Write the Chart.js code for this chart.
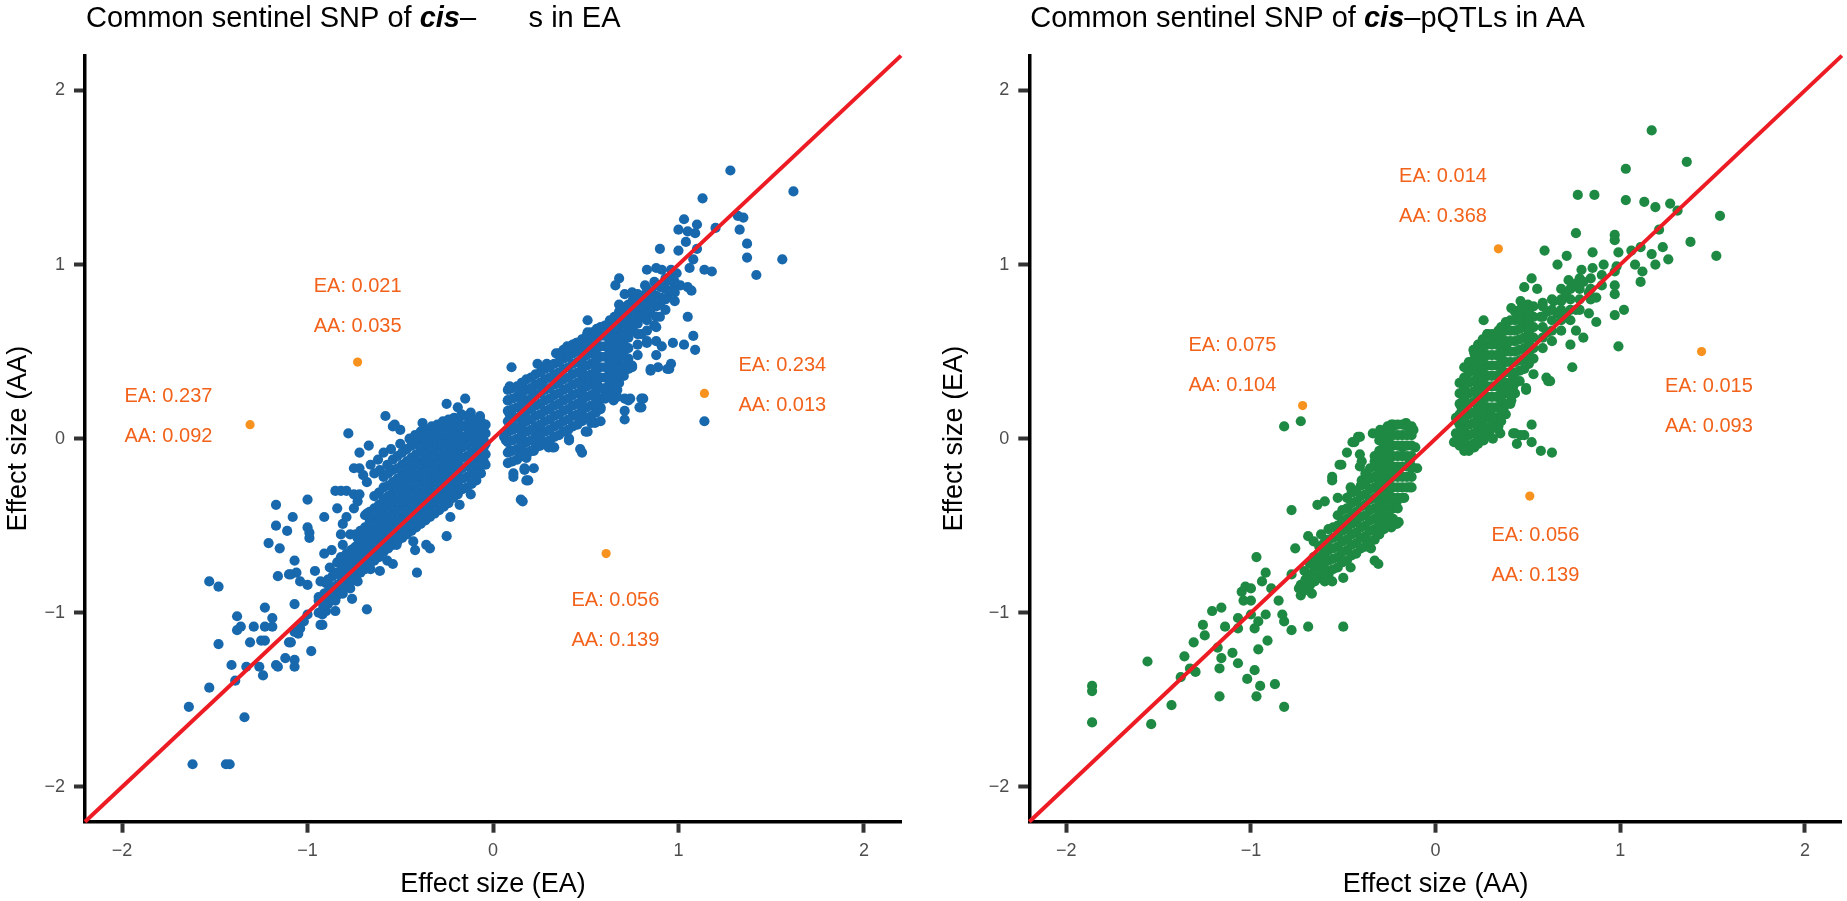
<!DOCTYPE html>
<html>
<head>
<meta charset="utf-8">
<script src="https://cdn.jsdelivr.net/npm/chart.js@4.4.1/dist/chart.umd.min.js"></script>
<style>
  html, body { margin:0; padding:0; background:#ffffff; width:1847px; height:901px; overflow:hidden; }
  .panel { position:absolute; top:0; height:901px; }
  #p1 { left:0; width:923px; }
  #p2 { left:923px; width:924px; }
</style>
</head>
<body>
<div class="panel" id="p1"><canvas id="c1" width="923" height="901"></canvas></div>
<div class="panel" id="p2"><canvas id="c2" width="924" height="901"></canvas></div>
<script>
// ---------------- DATA ----------------
const tickValues = [-2, -1, 0, 1, 2];
const axisMin = -2.2, axisMax = 2.2;
const diagX = [-2.2, 2.2];   // identity line y = x across the plot

// Left panel: x = effect size (EA), y = effect size (AA) — individual points
const leftPoints = [
[-1.38,-1.02],[-1.23,-0.97],[-1.19,-1.03],[-1.36,-1.08],[-1.38,-1.10],[-1.29,-1.08],[-1.23,-1.08],[-1.19,-1.08],[-1.48,-1.18],[-1.31,-1.17],[-1.25,-1.16],[-1.23,-1.16],[-1.10,-1.17],[-1.41,-1.30],[-1.33,-1.31],[-1.26,-1.31],[-1.17,-1.30],[-1.16,-1.31],[-1.12,-1.26],[-1.07,-1.27],[-1.07,-1.31],[-1.24,-1.36],[-1.39,-1.39],[-1.53,-1.43],[-1.64,-1.54],[-1.34,-1.60],[-1.62,-1.87],[-1.44,-1.87],[-1.42,-1.87],[-0.98,-1.22],[-0.85,-0.99],[-0.68,-0.98],[-0.93,-1.07],[-0.92,-1.01],
[-1.53,-0.82],[-1.48,-0.85],[-1.10,-0.78],[-1.16,-0.79],[-1.06,-0.77],[-1.04,-0.82],[-1.00,-0.84],[-0.96,-0.76],[-0.93,-0.82],[-0.90,-0.83],[-0.91,-0.89],[-0.94,-0.91],[-0.92,-0.99],[-1.00,-1.01],[-1.02,-1.05],[-1.05,-1.12],[-1.07,-0.95],[-1.04,-1.09],[-1.07,-1.11],[-0.86,-0.86],[-0.90,-0.99],[-0.85,-0.93],[-0.76,-0.92],[-0.73,-0.82],[-0.81,-0.89],[-0.77,-0.86],[-0.79,-0.78],[-0.84,-0.77],[-0.88,-0.74],[-0.91,-0.66],[-0.87,-0.64],[-0.82,-0.68],[-0.81,-0.61],[-0.75,-0.63],[-0.73,-0.57],[-0.77,-0.55],[-0.82,-0.55],[-0.81,-0.49],[-0.79,-0.45],[-0.75,-0.40],[-0.73,-0.36],[-0.84,-0.40],[-0.85,-0.30],[-0.82,-0.30],[-0.79,-0.30],[-0.75,-0.32],[-0.72,-0.32],[-0.68,-0.25],[-0.64,-0.20],[-0.61,-0.18],[-0.57,-0.15],[-0.59,-0.08],[-0.67,-0.04],[-0.72,-0.08],[-0.75,-0.17],[-0.72,-0.17],[-0.70,-0.21],[-0.78,0.03],[-0.58,0.13],[-0.54,0.07],[-0.50,0.05],[-0.38,0.09],[-0.35,0.03],[-0.25,0.20],[-0.19,0.18],[-0.15,0.23],[-0.12,0.15],[-0.07,0.13],[-0.38,-0.41],[-0.43,-0.59],[-0.42,-0.64],[-0.41,-0.77],[-0.36,-0.61],[-0.34,-0.63],[-0.25,-0.56],[-0.23,-0.45],[-0.18,-0.38],[-0.12,-0.32],[-0.07,-0.19],[-0.05,-0.13],[-0.06,0.03],[-0.05,-0.05],[-0.91,-0.45],[-1.00,-0.35],[-1.00,-0.51],[-0.99,-0.57],[-0.99,-0.54],[-1.08,-0.45],[-1.11,-0.53],[-1.17,-0.50],[-1.17,-0.38],[-1.21,-0.60],[-1.15,-0.63],[-1.07,-0.70],[-0.61,-0.66],[-0.57,-0.70],[-0.54,-0.72],[-0.61,-0.76],[-0.66,-0.75],[-0.52,-0.61],[-0.64,-0.57],[-0.68,-0.51],[-0.68,-0.43],[-0.89,-0.83],[-1.09,-0.78],[-1.09,-1.17],[-0.92,-1.07],
[-0.09,0.08],[-0.14,0.07],[-0.21,0.07],[-0.27,0.03],[-0.05,-0.01],[-0.14,-0.03],[-0.23,-0.05],[-0.53,0.08],
[-0.45,0.00],[-0.42,0.02],[-0.39,0.04],[-0.36,0.05],[-0.33,0.07],[-0.30,0.08],[-0.27,0.10],[-0.50,-0.03],[-0.55,-0.06],[-0.62,-0.12],[-0.66,-0.15],[-0.21,0.12],[-0.17,0.14],
[1.28,1.54],[1.13,1.38],[1.62,1.42],[1.03,1.26],[1.10,1.23],[1.00,1.20],[1.05,1.19],[1.09,1.18],[1.20,1.21],[1.33,1.20],[1.35,1.27],[1.32,1.28],[1.37,1.12],[1.37,1.04],[1.42,0.94],[1.56,1.03],[0.90,1.09],[1.00,1.08],[1.04,1.13],[1.10,1.09],[1.08,1.03],[1.06,0.98],[1.14,0.97],[1.18,0.96],[0.83,0.97],[0.88,0.98],[0.91,0.97],[0.96,0.97],[0.99,0.95],[0.68,0.92],[0.66,0.88],[0.82,0.88],[0.87,0.90],[0.94,0.91],[0.98,0.89],[1.01,0.88],[1.05,0.87],[1.07,0.85],[0.71,0.83],[0.75,0.84],[0.78,0.81],[0.68,0.77],[0.72,0.76],[0.81,0.74],[0.90,0.77],[0.94,0.81],[0.98,0.79],[0.85,0.72],[0.90,0.70],[0.87,0.65],[1.05,0.70],[0.51,0.68],[0.51,0.61],[0.56,0.63],[0.62,0.64],[0.72,0.66],[0.78,0.68],[0.80,0.60],[0.83,0.55],[0.88,0.56],[0.91,0.53],[0.97,0.55],[1.03,0.54],[1.08,0.59],[1.09,0.51],[0.88,0.48],[0.85,0.39],[0.89,0.41],[0.96,0.43],[0.95,0.40],[0.75,0.42],[0.71,0.39],[0.85,0.40],[0.94,0.40],[0.75,0.41],[0.71,0.23],[0.74,0.23],[0.80,0.23],[0.80,0.18],[0.67,0.28],[0.65,0.22],[0.62,0.26],[0.56,0.32],[0.51,0.33],[0.55,0.09],[0.51,0.04],[0.41,0.00],[0.47,-0.06],[0.32,-0.05],[0.25,-0.04],[0.10,0.41],[0.24,0.43],[0.29,0.43],[1.14,0.10],[0.81,0.23],[0.79,0.18],[0.71,0.16],[0.73,0.22],[0.67,0.24],[0.58,0.10],[0.53,0.09],[0.50,0.04],[0.47,0.12],[0.41,-0.01],[0.48,-0.08],[0.33,-0.05],[0.30,-0.05],[0.25,-0.03],[0.19,-0.08],[0.17,-0.17],[0.22,-0.17],[0.19,-0.24],[0.16,-0.36],[0.09,0.30],[0.08,0.22],[0.09,0.14],[0.11,0.07],[0.07,-0.01],[0.09,-0.07],[0.15,-0.09],[0.18,-0.11],[0.22,-0.07],[0.11,-0.20],[0.17,-0.18],[0.11,-0.22],[0.18,-0.24],[0.15,-0.35],[0.16,0.32],[0.34,0.49],[0.40,0.53],[0.45,0.55],[0.48,0.53],[0.58,0.18],[0.71,0.11],[0.15,0.26],[0.18,0.12],[0.06,0.01],[0.15,-0.01],[0.25,0.03],[0.22,0.26],[0.26,0.31],[0.61,0.26]
];
// Left panel dense cores, read as columns: [EA value, AA values]
const leftCore = [
[-0.04,[-0.15,-0.09,-0.03,0.03,0.08]],
[-0.09,[-0.24,-0.18,-0.12,-0.06,0.00,0.06,0.11]],
[-0.14,[-0.28,-0.22,-0.16,-0.10,-0.04,0.02,0.08,0.13]],
[-0.19,[-0.32,-0.26,-0.20,-0.14,-0.08,-0.02,0.04,0.10]],
[-0.24,[-0.37,-0.31,-0.25,-0.19,-0.13,-0.07,-0.01,0.05,0.11]],
[-0.29,[-0.41,-0.35,-0.29,-0.23,-0.17,-0.11,-0.05,0.01,0.06]],
[-0.34,[-0.45,-0.39,-0.33,-0.27,-0.21,-0.15,-0.09,-0.03,0.02]],
[-0.39,[-0.49,-0.43,-0.37,-0.31,-0.25,-0.19,-0.13,-0.07,-0.01]],
[-0.44,[-0.53,-0.47,-0.41,-0.35,-0.29,-0.23,-0.17,-0.11,-0.04]],
[-0.49,[-0.57,-0.51,-0.45,-0.39,-0.33,-0.27,-0.21,-0.15,-0.08]],
[-0.54,[-0.61,-0.55,-0.49,-0.43,-0.37,-0.31,-0.25,-0.18,-0.12]],
[-0.59,[-0.65,-0.59,-0.53,-0.47,-0.41,-0.35,-0.28,-0.22]],
[-0.64,[-0.70,-0.64,-0.58,-0.52,-0.46,-0.40,-0.33]],
[-0.69,[-0.75,-0.69,-0.63,-0.57,-0.51,-0.44]],
[-0.74,[-0.80,-0.74,-0.68,-0.62,-0.55]],
[-0.79,[-0.85,-0.79,-0.72,-0.66]],
[-0.84,[-0.90,-0.84,-0.77,-0.71]],
[-0.89,[-0.95,-0.88,-0.81]],
[-0.94,[-1.00,-0.93]],
[0.08,[-0.14,-0.08,-0.02,0.04,0.10,0.16,0.22,0.28]],
[0.13,[-0.12,-0.06,0.00,0.06,0.12,0.18,0.24,0.30]],
[0.18,[-0.08,-0.02,0.04,0.10,0.16,0.22,0.28,0.34]],
[0.23,[-0.05,0.01,0.07,0.13,0.19,0.25,0.31,0.37]],
[0.28,[-0.02,0.04,0.10,0.16,0.22,0.28,0.34,0.40]],
[0.33,[0.01,0.07,0.13,0.19,0.25,0.31,0.37,0.43]],
[0.38,[0.04,0.10,0.16,0.22,0.28,0.34,0.40,0.46,0.51]],
[0.43,[0.07,0.13,0.19,0.25,0.31,0.37,0.43,0.49,0.54]],
[0.48,[0.10,0.16,0.22,0.28,0.34,0.40,0.46,0.52,0.57]],
[0.53,[0.13,0.19,0.25,0.31,0.37,0.43,0.49,0.55,0.61]],
[0.58,[0.17,0.23,0.29,0.35,0.41,0.47,0.53,0.59,0.64]],
[0.63,[0.26,0.32,0.38,0.44,0.50,0.56,0.62,0.68]],
[0.68,[0.32,0.38,0.44,0.50,0.56,0.62,0.68,0.73]],
[0.73,[0.40,0.46,0.52,0.58,0.64,0.70,0.77]],
[0.78,[0.48,0.54,0.60,0.66,0.72,0.78,0.83]],
[0.83,[0.56,0.62,0.68,0.74,0.80,0.86]],
[0.88,[0.64,0.70,0.76,0.82,0.88]],
[0.93,[0.74,0.80,0.86,0.92]],
[0.98,[0.84,0.90,0.95]]
];
// Left panel in-between columns of the dense cores
const leftCoreB = [
[-0.065,[-0.20,-0.14,-0.08,-0.02,0.04,0.10]],
[-0.115,[-0.26,-0.20,-0.14,-0.08,-0.02,0.04,0.10]],
[-0.165,[-0.29,-0.23,-0.17,-0.11,-0.05,0.01,0.07,0.13]],
[-0.215,[-0.34,-0.28,-0.22,-0.16,-0.10,-0.04,0.02,0.08]],
[-0.265,[-0.39,-0.33,-0.27,-0.21,-0.15,-0.09,-0.03,0.03,0.09]],
[-0.315,[-0.43,-0.37,-0.31,-0.25,-0.19,-0.13,-0.07,-0.01,0.04]],
[-0.365,[-0.47,-0.41,-0.35,-0.29,-0.23,-0.17,-0.11,-0.05,0.00]],
[-0.415,[-0.51,-0.45,-0.39,-0.33,-0.27,-0.21,-0.15,-0.09,-0.03]],
[-0.465,[-0.55,-0.49,-0.43,-0.37,-0.31,-0.25,-0.19,-0.13,-0.06]],
[-0.515,[-0.59,-0.53,-0.47,-0.41,-0.35,-0.29,-0.23,-0.17,-0.10]],
[-0.565,[-0.63,-0.57,-0.51,-0.45,-0.39,-0.33,-0.27,-0.20]],
[-0.615,[-0.68,-0.62,-0.56,-0.50,-0.44,-0.38,-0.31]],
[-0.665,[-0.72,-0.66,-0.60,-0.54,-0.48,-0.42]],
[-0.715,[-0.77,-0.71,-0.65,-0.59,-0.53]],
[-0.765,[-0.82,-0.76,-0.70,-0.64]],
[-0.815,[-0.87,-0.81,-0.75,-0.69]],
[-0.865,[-0.92,-0.86,-0.79]],
[-0.915,[-0.97,-0.91]],
[0.105,[-0.13,-0.07,-0.01,0.05,0.11,0.17,0.23,0.29]],
[0.155,[-0.10,-0.04,0.02,0.08,0.14,0.20,0.26,0.32]],
[0.205,[-0.07,-0.01,0.05,0.11,0.17,0.23,0.29,0.35]],
[0.255,[-0.04,0.02,0.08,0.14,0.20,0.26,0.32,0.38]],
[0.305,[-0.01,0.05,0.11,0.17,0.23,0.29,0.35,0.41]],
[0.355,[0.02,0.08,0.14,0.20,0.26,0.32,0.38,0.44,0.49]],
[0.405,[0.05,0.11,0.17,0.23,0.29,0.35,0.41,0.47,0.52]],
[0.455,[0.08,0.14,0.20,0.26,0.32,0.38,0.44,0.50,0.55]],
[0.505,[0.12,0.18,0.24,0.30,0.36,0.42,0.48,0.54,0.59]],
[0.555,[0.15,0.21,0.27,0.33,0.39,0.45,0.51,0.57,0.62]],
[0.605,[0.23,0.29,0.35,0.41,0.47,0.53,0.59,0.65]],
[0.655,[0.29,0.35,0.41,0.47,0.53,0.59,0.65,0.70]],
[0.705,[0.36,0.42,0.48,0.54,0.60,0.66,0.72]],
[0.755,[0.62,0.68,0.74,0.80]],
[0.805,[0.70,0.76,0.82]],
[0.855,[0.78,0.84]],
[0.905,[0.81,0.87]],
[0.955,[0.85,0.91]]
];
// Left panel highlighted SNPs and their labels
const leftHiX = [-0.73, -1.31, 1.14, 0.61];
const leftHiY = [0.44, 0.08, 0.26, -0.66];
const leftLabelTop = ['EA: 0.021', 'EA: 0.237', 'EA: 0.234', 'EA: 0.056'];
const leftLabelBottom = ['AA: 0.035', 'AA: 0.092', 'AA: 0.013', 'AA: 0.139'];
const leftLabelX = [-0.73, -1.75, 1.56, 0.66];
const leftLabelTopY = [0.875, 0.24, 0.42, -0.93];
const leftLabelBottomY = [0.645, 0.01, 0.19, -1.16];

// Right panel: x = effect size (AA), y = effect size (EA)
const rightPoints = [
[-0.82,0.07],[-0.73,0.10],[-1.86,-1.63],[-1.86,-1.45],[-1.86,-1.42],[-1.56,-1.28],[-1.54,-1.64],[-1.43,-1.53],[-1.38,-1.37],[-1.36,-1.25],[-1.31,-1.17],[-1.33,-1.32],[-1.30,-1.34],[-1.26,-1.07],[-1.25,-1.13],[-1.21,-0.99],[-1.16,-0.97],[-1.14,-1.08],[-1.18,-1.20],[-1.16,-1.26],[-1.17,-1.32],[-1.17,-1.48],[-1.10,-1.23],[-1.07,-1.29],[-1.07,-1.03],[-1.07,-1.09],[-1.02,-1.38],[-0.98,-1.33],[-0.95,-1.42],[-0.97,-1.48],[-0.87,-1.41],[-0.82,-1.54],[-0.96,-1.21],[-0.91,-1.16],[-0.97,-0.68],[-1.05,-0.88],[-1.03,-0.85],[-1.00,-0.86],[-1.04,-0.93],[-1.00,-0.93],[-1.00,-1.01],[-0.96,-1.05],[-0.98,-1.09],[-0.92,-1.01],[-0.92,-0.77],[-0.94,-0.82],[-0.89,-0.86],[-0.85,-0.93],[-0.83,-1.01],[-0.82,-1.05],[-0.78,-1.10],[-0.69,-1.08],[-0.50,-1.08],[-0.78,-0.78],[-0.74,-0.86],[-0.71,-0.84],[-0.67,-0.89],[-0.71,-0.76],[-0.76,-0.63],[-0.78,-0.41],[-0.69,-0.56],[-0.66,-0.59],[-0.62,-0.55],[-0.66,-0.68],[-0.60,-0.68],[-0.58,-0.78],[-0.60,-0.82],[-0.56,-0.82],[-0.50,-0.80],[-0.46,-0.74],[-0.51,-0.70],[-0.57,-0.63],[-0.56,-0.24],[-0.51,-0.15],[-0.48,-0.08],[-0.45,-0.02],[-0.41,0.01],[-0.41,-0.16],[-0.40,-0.13],[-0.33,-0.13],[-0.34,0.03],[-0.30,0.05],[-0.26,0.07],[-0.24,0.08],[-0.16,0.09],[-0.12,0.05],[-0.11,-0.05],[-0.10,-0.17],[-0.13,-0.28],[-0.17,-0.34],[-0.21,-0.49],[-0.24,-0.51],[-0.35,-0.63],[-0.33,-0.70],[-0.37,-0.59],[-0.64,-0.38],[-0.60,-0.36],[-0.53,-0.34],[-0.46,-0.28],[-0.40,-0.24],[-0.37,-0.22],
[-0.31,0.03],[-0.42,0.01],[-0.44,-0.02],[-0.41,-0.09],[-0.52,-0.15],[-0.56,-0.22],[-0.27,-0.07],[-0.18,-0.05],[-0.14,-0.13],[-0.22,-0.20],[-0.31,-0.22],[-0.23,0.08],[-0.28,0.04],[-0.13,-0.17],[-0.14,-0.28],[-0.21,-0.36],[-0.20,-0.48],[-0.31,-0.55],[-0.31,-0.72],[-0.26,-0.41],
[1.17,1.77],[1.03,1.55],[1.36,1.59],[0.77,1.40],[0.86,1.40],[1.03,1.37],[1.13,1.36],[1.19,1.33],[1.27,1.35],[1.31,1.31],[1.54,1.28],[0.76,1.18],[0.97,1.17],[0.97,1.14],[1.21,1.20],[1.38,1.13],[1.52,1.05],[0.59,1.08],[0.71,1.05],[0.66,1.00],[0.85,1.07],[0.91,1.00],[0.85,0.98],[0.79,0.97],[0.99,1.07],[1.06,1.08],[1.11,1.10],[1.17,1.06],[1.23,1.10],[1.26,1.03],[1.19,1.00],[1.08,1.00],[1.12,0.96],[1.11,0.90],[0.97,0.96],[0.98,0.99],[0.97,0.88],[0.97,0.83],[1.02,0.74],[0.97,0.71],[0.99,0.53],[0.52,0.92],[0.48,0.87],[0.55,0.86],[0.46,0.79],[0.50,0.77],[0.41,0.75],[0.58,0.78],[0.64,0.79],[0.68,0.79],[0.72,0.91],[0.76,0.89],[0.80,0.90],[0.83,0.84],[0.87,0.81],[0.26,0.68],[0.28,0.60],[0.34,0.62],[0.38,0.66],[0.46,0.68],[0.57,0.70],[0.66,0.72],[0.76,0.74],[0.83,0.72],[0.87,0.67],[0.76,0.62],[0.80,0.58],[0.73,0.54],[0.74,0.41],[0.61,0.33],[0.60,0.35],[0.49,0.28],[0.53,0.37],[0.21,0.49],[0.18,0.41],[0.16,0.35],[0.14,0.26],[0.14,0.18],[0.12,0.10],[0.11,0.03],[0.13,-0.03],[0.18,-0.07],[0.23,-0.03],[0.29,0.03],[0.31,0.10],[0.35,0.18],[0.38,0.28],[0.42,0.35],[0.46,0.45],[0.38,0.53],[0.31,0.56],[0.35,0.03],[0.43,0.03],[0.46,0.02],[0.44,-0.03],[0.52,0.08],[0.52,-0.02],[0.57,-0.07],[0.63,-0.08],
[0.11,0.12],[0.10,-0.02],[0.17,-0.05],[0.21,-0.05],[0.26,-0.01],[0.31,0.00],[0.34,0.07],[0.42,0.03],[0.48,0.02],[0.62,0.33],[0.49,0.29],[0.42,0.30],[0.15,0.24],[0.23,0.14],[0.30,0.14],[0.37,0.18],[0.41,0.22]
];
const rightCore = [
[-0.13,[-0.22,-0.16,-0.10,-0.04,0.02,0.07]],
[-0.18,[-0.34,-0.28,-0.22,-0.16,-0.10,-0.04,0.02,0.08]],
[-0.23,[-0.46,-0.40,-0.34,-0.28,-0.22,-0.16,-0.10,-0.04,0.02,0.07]],
[-0.28,[-0.52,-0.46,-0.40,-0.34,-0.28,-0.22,-0.16,-0.10,-0.04,0.02]],
[-0.33,[-0.58,-0.52,-0.46,-0.40,-0.34,-0.28,-0.22,-0.16,-0.10]],
[-0.38,[-0.62,-0.56,-0.50,-0.44,-0.38,-0.32,-0.26,-0.20]],
[-0.43,[-0.66,-0.60,-0.54,-0.48,-0.42,-0.36,-0.30]],
[-0.48,[-0.70,-0.64,-0.58,-0.52,-0.46,-0.40,-0.34]],
[-0.53,[-0.74,-0.68,-0.62,-0.56,-0.50,-0.44]],
[-0.58,[-0.76,-0.70,-0.64,-0.58,-0.52]],
[-0.63,[-0.80,-0.74,-0.68,-0.62]],
[-0.68,[-0.84,-0.78,-0.72]],
[-0.73,[-0.90,-0.84]],
[0.13,[-0.04,0.02,0.08,0.14,0.20,0.26,0.32]],
[0.18,[-0.04,0.02,0.08,0.14,0.20,0.26,0.32,0.38,0.44]],
[0.23,[0.00,0.06,0.12,0.18,0.24,0.30,0.36,0.42,0.48,0.54]],
[0.28,[0.06,0.12,0.18,0.24,0.30,0.36,0.42,0.48,0.54,0.60]],
[0.33,[0.06,0.12,0.18,0.24,0.30,0.36,0.42,0.48,0.54,0.60]],
[0.38,[0.14,0.20,0.26,0.32,0.38,0.44,0.50,0.56,0.62,0.67]],
[0.43,[0.26,0.32,0.38,0.44,0.50,0.56,0.62,0.68,0.73]],
[0.48,[0.40,0.46,0.52,0.58,0.64,0.70,0.76]],
[0.53,[0.46,0.52,0.58,0.64,0.70,0.76]],
[0.58,[0.52,0.58,0.64,0.70,0.76]],
[0.63,[0.56,0.62,0.68,0.74,0.80]],
[0.68,[0.62,0.68,0.74,0.80,0.86]],
[0.73,[0.68,0.74,0.80,0.86]],
[0.78,[0.74,0.80,0.86,0.92]],
[0.84,[0.80,0.86,0.92]],
[0.90,[0.88,0.94]]
];
const rightCoreB = [
[-0.155,[-0.28,-0.22,-0.16,-0.10,-0.04,0.02,0.07]],
[-0.205,[-0.40,-0.34,-0.28,-0.22,-0.16,-0.10,-0.04,0.02,0.08]],
[-0.255,[-0.49,-0.43,-0.37,-0.31,-0.25,-0.19,-0.13,-0.07,-0.01,0.05]],
[-0.305,[-0.55,-0.49,-0.43,-0.37,-0.31,-0.25,-0.19,-0.13,-0.07,-0.01]],
[-0.355,[-0.59,-0.53,-0.47,-0.41,-0.35,-0.29,-0.23,-0.17]],
[-0.405,[-0.63,-0.57,-0.51,-0.45,-0.39,-0.33,-0.27]],
[-0.455,[-0.67,-0.61,-0.55,-0.49,-0.43,-0.37,-0.31]],
[-0.505,[-0.71,-0.65,-0.59,-0.53,-0.47,-0.41]],
[-0.555,[-0.75,-0.69,-0.63,-0.57,-0.51]],
[-0.605,[-0.78,-0.72,-0.66,-0.60]],
[-0.655,[-0.82,-0.76,-0.70]],
[-0.705,[-0.87,-0.81]],
[0.155,[-0.07,-0.01,0.05,0.11,0.17,0.23,0.29,0.35,0.41]],
[0.205,[-0.03,0.03,0.09,0.15,0.21,0.27,0.33,0.39,0.45,0.51]],
[0.255,[0.03,0.09,0.15,0.21,0.27,0.33,0.39,0.45,0.51,0.57]],
[0.305,[0.06,0.12,0.18,0.24,0.30,0.36,0.42,0.48,0.54,0.60]],
[0.355,[0.10,0.16,0.22,0.28,0.34,0.40,0.46,0.52,0.58,0.64]],
[0.405,[0.20,0.26,0.32,0.38,0.44,0.50,0.56,0.62,0.68]],
[0.455,[0.33,0.39,0.45,0.51,0.57,0.63,0.69,0.74]],
[0.505,[0.43,0.49,0.55,0.61,0.67,0.73]],
[0.605,[0.61,0.73]],
[0.705,[0.71,0.83]]
];
const rightHiX = [-0.72, 0.34, 1.44, 0.51];
const rightHiY = [0.19, 1.09, 0.50, -0.33];
const rightLabelTop = ['EA: 0.075', 'EA: 0.014', 'EA: 0.015', 'EA: 0.056'];
const rightLabelBottom = ['AA: 0.104', 'AA: 0.368', 'AA: 0.093', 'AA: 0.139'];
const rightLabelX = [-1.10, 0.04, 1.48, 0.54];
const rightLabelTopY = [0.535, 1.505, 0.30, -0.555];
const rightLabelBottomY = [0.305, 1.275, 0.07, -0.785];

// ---------------- STYLE ----------------
const FONT = "'Liberation Sans', Arial, Helvetica, sans-serif";
const BLUE = '#1868ad', GREEN = '#1e8943', ORANGE_DOT = '#f7921e', ORANGE_TXT = '#f2621a', RED = '#ed1c24';

function toXY(pairs, cores) {
  const out = pairs.map(p => ({x: p[0], y: p[1]}));
  cores.forEach(core => core.forEach(col => col[1].forEach(v => out.push({x: col[0], y: v}))));
  return out;
}
function minusFmt(v) { return v < 0 ? '\u2212' + Math.abs(v) : String(v); }

const decoPlugin = {
  id: 'deco',
  afterDraw(chart, args, o) {
    const ctx = chart.ctx, xs = chart.scales.x, ys = chart.scales.y;
    ctx.save();
    // annotation labels
    ctx.fillStyle = ORANGE_TXT;
    ctx.font = '20px ' + FONT;
    ctx.textAlign = 'center';
    ctx.textBaseline = 'middle';
    o.top.forEach((t, i) => {
      ctx.fillText(t, xs.getPixelForValue(o.lx[i]), ys.getPixelForValue(o.ty[i]));
      ctx.fillText(o.bottom[i], xs.getPixelForValue(o.lx[i]), ys.getPixelForValue(o.by[i]));
    });
    // title
    ctx.fillStyle = '#000';
    ctx.textAlign = 'left';
    ctx.textBaseline = 'alphabetic';
    let x = chart.chartArea.left + 1;
    o.title.forEach(seg => {
      ctx.font = seg.f + ' 29px ' + FONT;
      if (!seg.hidden) ctx.fillText(seg.t, x, 27);
      x += ctx.measureText(seg.t).width - (seg.shrink || 0);
    });
    ctx.restore();
  }
};

function makeChart(id, cfg) {
  return new Chart(document.getElementById(id), {
    type: 'scatter',
    data: {
      datasets: [
        { type: 'line', data: diagX.map(v => ({x: v, y: v})), borderColor: RED, borderWidth: 4, pointRadius: 0, fill: false, order: 1, clip: 6 },
        { data: cfg.hi, backgroundColor: ORANGE_DOT, pointRadius: 4.6, borderWidth: 0, order: 0 },
        { data: cfg.points, backgroundColor: cfg.color, pointRadius: 5.1, borderWidth: 0, order: 2 }
      ]
    },
    options: {
      responsive: false,
      animation: false,
      devicePixelRatio: 1,
      layout: { padding: { left: 0, right: cfg.padRight, top: 55.6, bottom: 0 } },
      plugins: {
        legend: { display: false }, tooltip: { enabled: false }, title: { display: false },
        deco: cfg.deco
      },
      scales: {
        x: {
          type: 'linear', min: axisMin, max: axisMax,
          afterBuildTicks: s => { s.ticks = tickValues.map(v => ({value: v})); },
          afterFit: s => { s.height = 79.3; },
          ticks: { callback: minusFmt, color: '#4d4d4d', font: { family: FONT, size: 18 }, padding: 8, autoSkip: false, maxRotation: 0 },
          grid: { display: true, drawOnChartArea: false, drawTicks: true, tickLength: 11, tickWidth: 4, tickColor: '#333333' },
          border: { display: true, color: '#000000', width: 3.5 },
          title: { display: true, text: cfg.xTitle, color: '#000', font: { family: FONT, size: 27 }, padding: { top: 0, bottom: 0 } }
        },
        y: {
          type: 'linear', min: axisMin, max: axisMax,
          afterBuildTicks: s => { s.ticks = tickValues.map(v => ({value: v})); },
          afterFit: s => { s.width = cfg.yWidth; },
          ticks: { callback: minusFmt, color: '#4d4d4d', font: { family: FONT, size: 18 }, padding: 9, autoSkip: false },
          grid: { display: true, drawOnChartArea: false, drawTicks: true, tickLength: 11, tickWidth: 4, tickColor: '#333333' },
          border: { display: true, color: '#000000', width: 3.5 },
          title: { display: true, text: cfg.yTitle, color: '#000', font: { family: FONT, size: 27 }, padding: { top: cfg.yTitlePad, bottom: 0 } }
        }
      }
    },
    plugins: [decoPlugin]
  });
}

makeChart('c1', {
  points: toXY(leftPoints, [leftCore, leftCoreB]),
  hi: leftHiX.map((v, i) => ({x: v, y: leftHiY[i]})),
  color: BLUE, padRight: 22, yWidth: 85, yTitlePad: 2,
  xTitle: 'Effect size (EA)', yTitle: 'Effect size (AA)',
  deco: {
    top: leftLabelTop, bottom: leftLabelBottom, lx: leftLabelX, ty: leftLabelTopY, by: leftLabelBottomY,
    title: [ {t: 'Common sentinel SNP of ', f: 'normal'}, {t: 'cis', f: 'italic bold'}, {t: '\u2013', f: 'normal'},
             {t: 'pQTL', f: 'normal', hidden: true, shrink: 20}, {t: 's in EA', f: 'normal'} ]
  }
});
makeChart('c2', {
  points: toXY(rightPoints, [rightCore, rightCoreB]),
  hi: rightHiX.map((v, i) => ({x: v, y: rightHiY[i]})),
  color: GREEN, padRight: 1.4, yWidth: 106.3, yTitlePad: 15,
  xTitle: 'Effect size (AA)', yTitle: 'Effect size (EA)',
  deco: {
    top: rightLabelTop, bottom: rightLabelBottom, lx: rightLabelX, ty: rightLabelTopY, by: rightLabelBottomY,
    title: [ {t: 'Common sentinel SNP of ', f: 'normal'}, {t: 'cis', f: 'italic bold'}, {t: '\u2013pQTLs in AA', f: 'normal'} ]
  }
});
</script>
</body>
</html>
